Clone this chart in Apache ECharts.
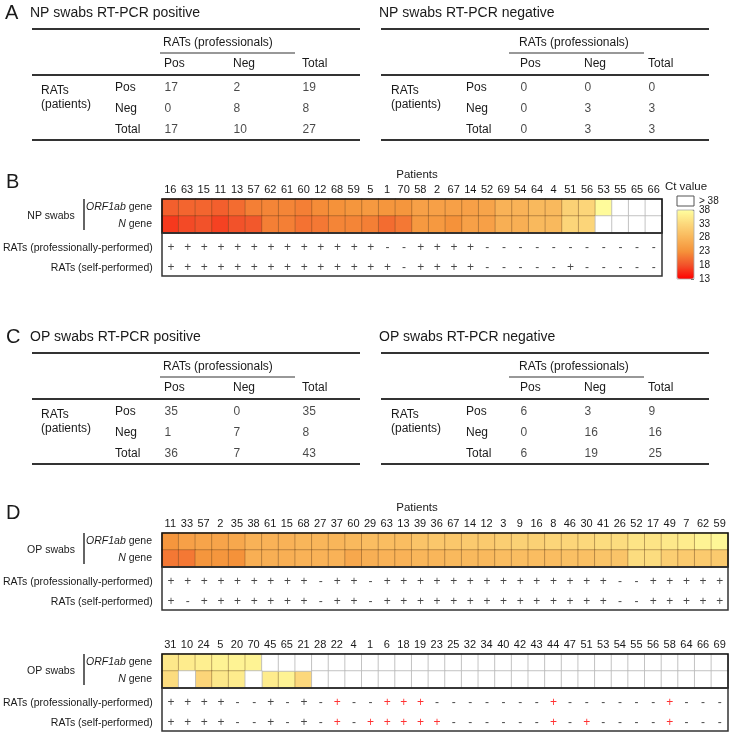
<!DOCTYPE html>
<html><head><meta charset="utf-8">
<script src="https://cdn.jsdelivr.net/npm/echarts@6/dist/echarts.min.js"></script>
<style>html,body{margin:0;padding:0;background:#fff}#c{width:731px;height:734px}</style>
</head><body><div id="c"></div>
<script>
// ---------------- DATA ----------------
const tableCols = ['Pos', 'Neg', 'Total'];
const tableRows = ['Pos', 'Neg', 'Total'];
const npPositive = [[17, 2, 19], [0, 8, 8], [17, 10, 27]];
const npNegative = [[0, 0, 0], [0, 3, 3], [0, 3, 3]];
const opPositive = [[35, 0, 35], [1, 7, 8], [36, 7, 43]];
const opNegative = [[6, 3, 9], [0, 16, 16], [6, 19, 25]];

const npPatients = ['16','63','15','11','13','57','62','61','60','12','68','59','5','1','70','58','2','67','14','52','69','54','64','4','51','56','53','55','65','66'];
const npOrf1ab = [19,19.5,19.5,19,20,21.5,22,22,21.5,22.5,23,23.5,24,23.5,23.5,25,25,25,25,25.5,27.5,27.5,28.5,28.5,32,32.5,37.5,null,null,null];
const npNgene  = [16.5,17.5,18,17,18,18.5,21.5,21.5,20.5,21,22,22,21.5,20,21,24,24,23,25,25,27,27,28.5,28.5,32.5,32.5,null,null,null,null];
const npRatPro  = ['+','+','+','+','+','+','+','+','+','+','+','+','+','-','-','+','+','+','+','-','-','-','-','-','-','-','-','-','-','-'];
const npRatSelf = ['+','+','+','+','+','+','+','+','+','+','+','+','+','+','-','+','+','+','+','-','-','-','-','-','+','-','-','-','-','-'];

const opPatients1 = ['11','33','57','2','35','38','61','15','68','27','37','60','29','63','13','39','36','67','14','12','3','9','16','8','46','30','41','26','52','17','49','7','62','59'];
const opOrf1ab1 = [23.5,25,25.5,25.5,26,27.5,27.5,27.5,28,28,28,28.5,29,29,29,30,30.5,30.5,31,31,31.5,32,32,32.5,32.5,33,33.5,33.5,34.5,34.5,35,35.5,36.5,37];
const opNgene1  = [21,21,23.5,23.5,23,27,27,27,27.5,27.5,27.5,26,27,27.5,27.5,28,28,28.5,28.5,28.5,29,29,29,29,29.5,29.5,30,30,33.5,33.5,31.5,31,31,31];
const opRatPro1  = ['+','+','+','+','+','+','+','+','+','-','+','+','-','+','+','+','+','+','+','+','+','+','+','+','+','+','+','-','-','+','+','+','+','+'];
const opRatSelf1 = ['+','-','+','+','+','+','+','+','+','-','+','+','-','+','+','+','+','+','+','+','+','+','+','+','+','+','+','-','-','+','+','+','+','+'];

const opPatients2 = ['31','10','24','5','20','70','45','65','21','28','22','4','1','6','18','19','23','25','32','34','40','42','43','44','47','51','53','54','55','56','58','64','66','69'];
const opOrf1ab2 = [35,35.5,36,36.5,36.5,36.5,null,null,null,null,null,null,null,null,null,null,null,null,null,null,null,null,null,null,null,null,null,null,null,null,null,null,null,null];
const opNgene2  = [33.5,null,32.5,35,35.5,null,35.5,36.5,33,null,null,null,null,null,null,null,null,null,null,null,null,null,null,null,null,null,null,null,null,null,null,null,null,null];
const opRatPro2  = ['+','+','+','+','-','-','+','-','+','-','+','-','-','+','+','+','-','-','-','-','-','-','-','+','-','-','-','-','-','-','+','-','-','-'];
const opRatSelf2 = ['+','+','+','+','-','-','+','-','+','-','+','-','+','+','+','+','+','-','-','-','-','-','-','+','-','+','-','-','-','-','+','-','-','-'];

const ctTicks = [13, 38, 5]; // min, max, step of the Ct scale

// ---------------- BUILD ----------------
const FONT = "'Liberation Sans', Arial, sans-serif";
const TXT = '#1a1a1a';
const grids = [], xAxis = [], yAxis = [], series = [], graphic = [];
const heatIdx = [];

function text(x, y, str, size, opts) {
  opts = opts || {};
  graphic.push({type: 'text', x: x, y: y, z: 100, silent: true, style: Object.assign({
    text: str, fill: TXT, fontSize: size, fontFamily: FONT,
    align: opts.align || 'left', verticalAlign: 'middle'
  }, opts.style || {})});
}
function line(x1, y1, x2, y2, w, c) {
  graphic.push({type: 'line', z: 100, silent: true, shape: {x1, y1, x2, y2}, style: {stroke: c || '#333', lineWidth: w}});
}
function rect(x, y, w, h, lw, c, fill) {
  graphic.push({type: 'rect', z: 100, silent: true, shape: {x, y, width: w, height: h}, style: {fill: fill || 'none', stroke: c, lineWidth: lw}});
}

function table(L, T, title, vals, posOff, band, rowOff, ratsOff) {
  const gl = L + posOff - band / 2;
  const gi = grids.length;
  grids.push({left: gl, top: T + 64.5, width: band * 3, height: 63});
  xAxis.push({gridIndex: gi, type: 'category', data: tableCols, position: 'top',
    axisLine: {show: false}, axisTick: {show: false}, splitLine: {show: false},
    axisLabel: {align: 'left', margin: 7.5, fontSize: 12, color: TXT, fontFamily: FONT}});
  yAxis.push({gridIndex: gi, type: 'category', data: tableRows, inverse: true,
    axisLine: {show: false}, axisTick: {show: false}, splitLine: {show: false},
    axisLabel: {align: 'left', margin: gl - (L + rowOff), fontSize: 12, color: TXT, fontFamily: FONT}});
  const d = [];
  vals.forEach((row, r) => row.forEach((v, c) => d.push([c, r, v])));
  series.push({type: 'scatter', xAxisIndex: gi, yAxisIndex: gi, data: d, symbolSize: 1, silent: true,
    itemStyle: {color: 'rgba(0,0,0,0)'},
    label: {show: true, position: 'right', distance: 0, formatter: p => String(p.data[2]),
      fontSize: 12, color: TXT, fontFamily: FONT}});
  text(L - 2, T, title, 14);
  line(L, T + 16, L + 328, T + 16, 2);
  text(L + posOff - 1, T + 30, 'RATs (professionals)', 12);
  line(L + 128, T + 40, L + 263, T + 40, 1.2);
  line(L, T + 62, L + 328, T + 62, 2);
  line(L, T + 127, L + 328, T + 127, 2);
  graphic.push({type: 'text', x: L + ratsOff, y: T + 71, z: 100, silent: true,
    style: {text: 'RATs\n(patients)', fill: TXT, fontSize: 12, fontFamily: FONT, lineHeight: 14, align: 'left', verticalAlign: 'top'}});
}

function heatBlock(cfg) {
  const {patients, orf, ngene, pro, self, left, width, top, group} = cfg;
  const hH = 34, lowH = 43;
  let gi = grids.length;
  grids.push({left, top, width, height: hH});
  xAxis.push({gridIndex: gi, type: 'category', data: patients, position: 'top',
    axisLine: {show: false}, axisTick: {show: false}, splitLine: {show: false},
    axisLabel: {interval: 0, margin: 4, fontSize: 11, color: TXT, fontFamily: FONT}});
  yAxis.push({gridIndex: gi, type: 'category', data: ['ORF1ab gene', 'N gene'], inverse: true,
    axisLine: {show: false}, axisTick: {show: false}, splitLine: {show: false},
    axisLabel: {margin: 10, fontSize: 10.5, color: TXT, fontFamily: FONT,
      formatter: v => v === 'N gene' ? '{i|N} gene' : '{i|ORF1ab} gene',
      rich: {i: {fontStyle: 'italic', fontSize: 10.5, color: TXT, fontFamily: FONT}}}});
  const cells = [], blanks = [];
  [orf, ngene].forEach((arr, r) => arr.forEach((v, i) => {
    if (v === null) blanks.push([i, r, 0]);
    else cells.push([i, r, v]);
  }));
  heatIdx.push(series.length);
  series.push({type: 'heatmap', xAxisIndex: gi, yAxisIndex: gi, data: cells, silent: true,
    itemStyle: {borderWidth: 0.8, borderColor: 'rgba(95,60,25,0.45)'}, emphasis: {disabled: true}});
  series.push({type: 'heatmap', xAxisIndex: gi, yAxisIndex: gi, data: blanks, silent: true,
    itemStyle: {color: '#ffffff', borderWidth: 0.8, borderColor: '#b8b8b8'}, emphasis: {disabled: true}});

  gi = grids.length;
  grids.push({left, top: top + hH + 5, width, height: 40});
  xAxis.push({gridIndex: gi, type: 'category', data: patients, show: false});
  yAxis.push({gridIndex: gi, type: 'category', data: ['RATs (professionally-performed)', 'RATs (self-performed)'], inverse: true,
    axisLine: {show: false}, axisTick: {show: false}, splitLine: {show: false},
    axisLabel: {margin: 10, fontSize: 10.5, color: TXT, fontFamily: FONT}});
  const signs = [];
  [pro, self].forEach((arr, r) => arr.forEach((s, i) => {
    const pcrNeg = orf[i] === null && ngene[i] === null;
    signs.push({value: [i, r, s], label: {color: (pcrNeg && s === '+') ? '#ff0000' : TXT}});
  }));
  series.push({type: 'scatter', xAxisIndex: gi, yAxisIndex: gi, data: signs, symbolSize: 1, silent: true,
    itemStyle: {color: 'rgba(0,0,0,0)'},
    label: {show: true, position: 'inside', formatter: p => p.data.value[2], fontSize: 12, fontFamily: FONT}});

  rect(left, top, width, hH, 1.6, '#111');
  rect(left, top + hH, width, lowH, 1.5, '#333');
  text(51, top + 17, group, 10.5, {align: 'center'});
  line(84, top, 84, top + 31, 1.3, '#111');
}

// Panel letters
text(5, 13, 'A', 20);
text(6, 182, 'B', 20);
text(6, 337, 'C', 20);
text(6, 513, 'D', 20);

table(32, 13, 'NP swabs RT-PCR positive', npPositive, 132, 69, 83, 9);
table(381, 13, 'NP swabs RT-PCR negative', npNegative, 139, 64, 85, 10);
table(32, 337, 'OP swabs RT-PCR positive', opPositive, 132, 69, 83, 9);
table(381, 337, 'OP swabs RT-PCR negative', opNegative, 139, 64, 85, 10);

heatBlock({patients: npPatients, orf: npOrf1ab, ngene: npNgene, pro: npRatPro, self: npRatSelf, left: 162, width: 500, top: 199, group: 'NP swabs'});
heatBlock({patients: opPatients1, orf: opOrf1ab1, ngene: opNgene1, pro: opRatPro1, self: opRatSelf1, left: 162, width: 566, top: 533, group: 'OP swabs'});
heatBlock({patients: opPatients2, orf: opOrf1ab2, ngene: opNgene2, pro: opRatPro2, self: opRatSelf2, left: 162, width: 566, top: 654, group: 'OP swabs'});

text(417, 175, 'Patients', 11.5, {align: 'center'});
text(417, 508, 'Patients', 11.5, {align: 'center'});

// Legend
text(686, 187, 'Ct value', 11.5, {align: 'center'});
rect(677, 196, 17, 10, 1, '#555', '#fff');
text(699, 201, '> 38', 10);
const gLeg = grids.length;
grids.push({left: 677, top: 210, width: 17, height: 69});
xAxis.push({gridIndex: gLeg, type: 'category', data: [''], show: false});
yAxis.push({gridIndex: gLeg, type: 'value', min: ctTicks[0], max: ctTicks[1], interval: ctTicks[2], position: 'right',
  axisLine: {show: false}, splitLine: {show: false},
  axisTick: {show: true, inside: true, length: 3, lineStyle: {color: '#555', width: 1}},
  axisLabel: {margin: 5, fontSize: 10, color: TXT, fontFamily: FONT}});
rect(677, 210, 17, 69, 0.8, '#aaa');

const chart = echarts.init(document.getElementById('c'), null, {renderer: 'canvas'});
chart.setOption({
  animation: false,
  backgroundColor: '#fff',
  textStyle: {fontFamily: FONT},
  grid: grids, xAxis: xAxis, yAxis: yAxis, series: series, graphic: graphic,
  visualMap: {
    type: 'continuous', min: ctTicks[0], max: ctTicks[1], seriesIndex: heatIdx,
    calculable: false, hoverLink: false, show: true, padding: 0,
    left: 677, top: 210, itemWidth: 17, itemHeight: 69,
    inRange: {color: ['#ff0000', '#f2522a', '#f5923a', '#f9b65a', '#fcd87c', '#ffff9e']}
  }
});
</script>
</body></html>
